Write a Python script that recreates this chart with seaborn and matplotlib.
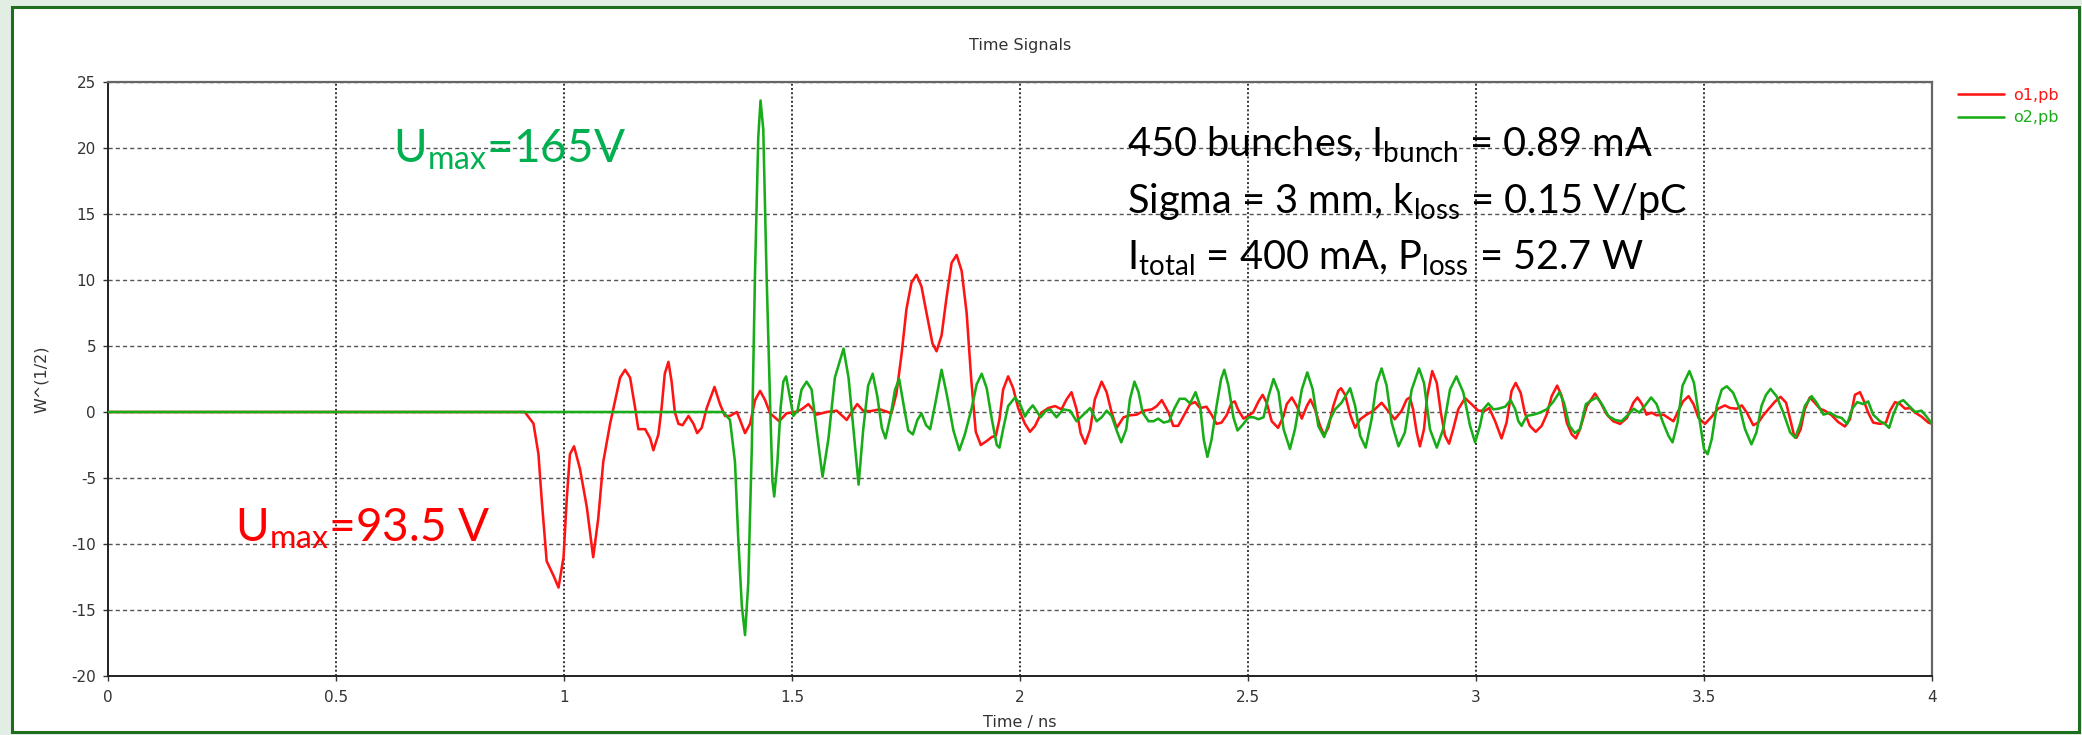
import numpy as np
import pandas as pd
import matplotlib
matplotlib.use("Agg")
import matplotlib.pyplot as plt
import seaborn as sns
from matplotlib.patches import Rectangle

# ---- probe signals (time in ns, amplitude in W^(1/2)) ----
t_o1 = [0.0, 0.914, 0.933, 0.944, 0.951, 0.962, 0.977, 0.988, 0.999, 1.006, 1.013,
        1.022, 1.035, 1.050, 1.064, 1.075, 1.086, 1.101, 1.112, 1.123, 1.134, 1.145,
        1.156, 1.163, 1.178, 1.189, 1.196, 1.207, 1.214, 1.221, 1.229, 1.236, 1.243,
        1.251, 1.260, 1.273, 1.284, 1.292, 1.302, 1.313, 1.330, 1.342, 1.353, 1.364,
        1.379, 1.386, 1.397, 1.408, 1.419, 1.430, 1.441, 1.452, 1.472, 1.488, 1.507,
        1.521, 1.536, 1.554, 1.576, 1.598, 1.620, 1.631, 1.643, 1.656, 1.671, 1.693,
        1.718, 1.729, 1.740, 1.751, 1.762, 1.773, 1.784, 1.795, 1.808, 1.817, 1.828,
        1.839, 1.850, 1.861, 1.872, 1.883, 1.893, 1.903, 1.914, 1.927, 1.938, 1.947,
        1.955, 1.963, 1.974, 1.985, 1.996, 2.011, 2.022, 2.033, 2.047, 2.062, 2.077,
        2.091, 2.102, 2.113, 2.124, 2.133, 2.143, 2.154, 2.164, 2.179, 2.190, 2.201,
        2.212, 2.227, 2.241, 2.256, 2.271, 2.289, 2.300, 2.311, 2.326, 2.336, 2.347,
        2.358, 2.373, 2.384, 2.395, 2.409, 2.420, 2.431, 2.442, 2.453, 2.464, 2.471,
        2.478, 2.490, 2.500, 2.511, 2.523, 2.532, 2.541, 2.552, 2.566, 2.578, 2.585,
        2.596, 2.607, 2.618, 2.629, 2.637, 2.647, 2.658, 2.667, 2.676, 2.687, 2.698,
        2.704, 2.713, 2.724, 2.735, 2.746, 2.760, 2.775, 2.793, 2.807, 2.822, 2.837,
        2.848, 2.855, 2.862, 2.870, 2.877, 2.886, 2.893, 2.904, 2.914, 2.923, 2.932,
        2.941, 2.950, 2.961, 2.976, 2.990, 3.005, 3.020, 3.029, 3.042, 3.056, 3.067,
        3.078, 3.087, 3.098, 3.107, 3.118, 3.131, 3.144, 3.155, 3.166, 3.178, 3.188,
        3.199, 3.210, 3.219, 3.228, 3.243, 3.261, 3.272, 3.287, 3.301, 3.316, 3.331,
        3.345, 3.354, 3.364, 3.374, 3.385, 3.396, 3.411, 3.422, 3.433, 3.444, 3.454,
        3.466, 3.477, 3.488, 3.502, 3.517, 3.531, 3.546, 3.557, 3.572, 3.583, 3.594,
        3.608, 3.619, 3.630, 3.641, 3.656, 3.668, 3.680, 3.689, 3.697, 3.703, 3.712,
        3.721, 3.732, 3.743, 3.754, 3.765, 3.780, 3.794, 3.809, 3.820, 3.831, 3.842,
        3.851, 3.860, 3.871, 3.886, 3.899, 3.908, 3.919, 3.930, 3.941, 3.952, 3.963,
        3.977, 3.992, 4.0]
v_o1 = [0.0, 0.0, -0.87, -3.2, -6.6, -11.3, -12.4, -13.3, -11.0, -6.6, -3.2,
        -2.6, -4.3, -7.2, -11.0, -8.1, -3.8, -0.9, 0.87, 2.6, 3.2, 2.6,
        0.3, -1.3, -1.3, -2.0, -2.9, -1.7, 0.3, 2.9, 3.8, 2.3, 0.0,
        -0.9, -1.0, -0.3, -0.9, -1.6, -1.2, 0.3, 1.9, 0.6, -0.3, -0.3,
        0.0, -0.6, -1.6, -0.9, 0.9, 1.6, 0.9, -0.1, -0.7, -0.1, 0.0,
        0.2, 0.6, -0.2, 0.0, 0.1, -0.6, 0.0, 0.6, 0.1, 0.06, 0.2,
        -0.1, 1.4, 4.3, 7.8, 9.8, 10.4, 9.5, 7.5, 5.2, 4.6, 5.8,
        8.7, 11.3, 11.9, 10.7, 7.5, 2.5, -1.5, -2.5, -2.2, -1.9, -1.8,
        -0.55, 1.7, 2.7, 1.8, 0.3, -0.9, -1.5, -1.05, -0.05, 0.3, 0.45,
        0.2, 0.95, 1.5, 0.2, -1.6, -2.4, -1.3, 0.95, 2.3, 1.5, -0.05,
        -1.2, -0.4, -0.25, -0.2, 0.1, 0.2, 0.45, 0.9, -0.05, -1.05, -1.05,
        -0.35, 0.6, 0.75, 0.3, 0.4, -0.2, -0.9, -0.8, -0.25, 0.7, 0.8,
        0.2, -0.5, -0.3, -0.05, 0.8, 1.3, 0.7, -0.7, -1.2, -0.3, 0.6,
        1.1, 0.45, -0.5, 0.45, 0.95, 0.2, -1.05, -1.75, -1.2, 0.45, 1.6,
        1.8, 1.3, -0.2, -1.2, -0.55, -0.2, 0.1, 0.7, 0.1, -0.55, 0.1,
        0.95, 1.1, 0.2, -1.55, -2.6, -1.3, 1.2, 3.1, 2.2, -0.05, -1.8,
        -2.4, -1.3, 0.2, 1.05, 0.6, 0.1, 0.1, 0.3, -0.7, -2.0, -0.8,
        1.6, 2.2, 1.45, -0.05, -1.05, -1.5, -1.05, -0.2, 1.2, 2.0, 1.2,
        -0.8, -1.7, -2.0, -1.3, 0.45, 1.4, 0.8, -0.2, -0.7, -0.9, -0.45,
        0.7, 1.1, 0.6, -0.2, -0.05, -0.25, -0.2, -0.45, -0.7, 0.1, 0.8,
        1.2, 0.6, -0.45, -0.9, -0.35, 0.25, 0.5, 0.3, 0.25, 0.5, -0.05,
        -1.0, -0.8, -0.25, 0.2, 0.8, 1.15, 0.7, -0.55, -1.7, -1.95, -1.3,
        0.2, 1.1, 0.7, 0.25, 0.1, -0.25, -0.75, -1.1, -0.55, 1.3, 1.5,
        0.8, -0.05, -0.8, -0.9, -0.8, 0.1, 0.75, 0.6, 0.25, 0.3, -0.05,
        -0.35, -0.8, -0.9]

t_o2 = [0.0, 1.349, 1.364, 1.375, 1.382, 1.390, 1.397, 1.404, 1.412, 1.419, 1.426,
        1.431, 1.437, 1.444, 1.452, 1.457, 1.461, 1.468, 1.475, 1.481, 1.487, 1.494,
        1.503, 1.512, 1.521, 1.532, 1.543, 1.554, 1.567, 1.580, 1.594, 1.613, 1.624,
        1.635, 1.646, 1.656, 1.667, 1.677, 1.687, 1.697, 1.705, 1.716, 1.726, 1.735,
        1.746, 1.755, 1.765, 1.775, 1.784, 1.794, 1.803, 1.814, 1.828, 1.839, 1.854,
        1.867, 1.879, 1.894, 1.905, 1.916, 1.927, 1.938, 1.949, 1.955, 1.963, 1.974,
        1.989, 2.000, 2.011, 2.018, 2.028, 2.036, 2.045, 2.057, 2.066, 2.080, 2.095,
        2.110, 2.124, 2.139, 2.154, 2.168, 2.179, 2.190, 2.201, 2.212, 2.222, 2.233,
        2.241, 2.251, 2.260, 2.269, 2.282, 2.293, 2.303, 2.315, 2.327, 2.339, 2.350,
        2.362, 2.373, 2.385, 2.395, 2.403, 2.411, 2.420, 2.431, 2.441, 2.448, 2.457,
        2.468, 2.477, 2.490, 2.501, 2.512, 2.523, 2.534, 2.545, 2.556, 2.567, 2.578,
        2.592, 2.603, 2.618, 2.630, 2.642, 2.654, 2.667, 2.680, 2.691, 2.705, 2.724,
        2.735, 2.746, 2.758, 2.771, 2.782, 2.793, 2.804, 2.815, 2.830, 2.844, 2.859,
        2.875, 2.886, 2.899, 2.914, 2.928, 2.943, 2.957, 2.972, 2.987, 2.998, 3.009,
        3.016, 3.027, 3.038, 3.049, 3.064, 3.076, 3.086, 3.093, 3.100, 3.111, 3.126,
        3.140, 3.155, 3.170, 3.183, 3.193, 3.205, 3.217, 3.228, 3.241, 3.254, 3.265,
        3.276, 3.290, 3.305, 3.319, 3.334, 3.346, 3.358, 3.370, 3.384, 3.396, 3.409,
        3.422, 3.431, 3.442, 3.453, 3.468, 3.478, 3.490, 3.500, 3.508, 3.517, 3.528,
        3.539, 3.550, 3.564, 3.579, 3.590, 3.604, 3.615, 3.626, 3.636, 3.646, 3.659,
        3.674, 3.689, 3.700, 3.711, 3.721, 3.736, 3.747, 3.762, 3.776, 3.791, 3.802,
        3.814, 3.826, 3.836, 3.849, 3.860, 3.871, 3.886, 3.897, 3.906, 3.915, 3.926,
        3.937, 3.950, 3.963, 3.977, 3.988, 4.0]
v_o2 = [0.0, 0.0, -0.6, -3.8, -9.5, -14.7, -16.9, -13.0, -2.5, 10.7, 20.8,
        23.6, 21.4, 10.7, 0.6, -5.2, -6.4, -3.8, 0.3, 2.3, 2.7, 1.4,
        -0.3, 0.1, 1.7, 2.3, 1.7, -1.4, -4.9, -2.0, 2.6, 4.8, 2.6,
        -1.4, -5.5, -1.4, 2.0, 2.9, 1.2, -1.2, -2.0, -0.3, 1.7, 2.5,
        0.3, -1.4, -1.7, -0.6, -0.1, -1.0, -1.3, 0.6, 3.2, 1.4, -1.4,
        -2.9, -1.7, 0.3, 2.1, 2.9, 1.8, -0.5, -2.5, -2.7, -1.3, 0.45,
        1.1, 0.6, -0.35, 0.1, 0.5, 0.1, -0.4, 0.1, 0.2, -0.4, 0.2,
        0.1, -0.7, -0.2, 0.3, -0.7, -0.4, 0.1, -0.3, -1.4, -2.3, -1.3,
        0.95, 2.3, 1.5, -0.05, -0.7, -0.7, -0.5, -0.8, -0.7, 0.3, 1.0,
        1.0, 0.65, 1.5, 0.45, -2.1, -3.4, -2.1, 0.45, 2.5, 3.2, 2.0,
        -0.4, -1.4, -0.9, -0.4, -0.4, -0.55, -0.4, 1.2, 2.5, 1.5, -1.3,
        -2.8, -1.3, 1.7, 3.0, 1.7, -1.05, -1.9, -0.55, 0.2, 0.7, 1.8,
        0.45, -1.8, -2.7, -0.55, 2.2, 3.3, 2.0, -0.8, -2.6, -1.55, 1.7,
        3.3, 2.2, -1.3, -2.7, -1.3, 1.7, 2.7, 1.5, -1.05, -2.3, -1.0,
        0.2, 0.65, 0.2, 0.25, 0.4, 0.9, 0.2, -0.7, -1.05, -0.3, -0.2,
        -0.05, 0.2, 0.8, 1.5, 0.7, -1.05, -1.6, -1.3, 0.6, 0.9, 1.1,
        0.6, -0.3, -0.6, -0.7, -0.2, 0.25, -0.05, 0.45, 1.1, 0.6, -0.7,
        -1.8, -2.3, -0.8, 2.0, 3.1, 2.2, -0.55, -2.8, -3.2, -2.05, 0.45,
        1.7, 1.95, 1.45, 0.2, -1.3, -2.45, -1.55, 0.45, 1.3, 1.75, 1.2,
        -0.05, -1.55, -1.95, -0.9, 0.45, 1.2, 0.7, -0.2, -0.05, -0.35, -0.45,
        -0.9, 0.3, 0.75, 0.6, 0.8, -0.2, -0.7, -0.9, -1.2, -0.2, 0.7,
        0.9, 0.45, 0.0, 0.1, -0.35, -0.9]

x_ticks = [0, 0.5, 1, 1.5, 2, 2.5, 3, 3.5, 4]
y_ticks = [-20, -15, -10, -5, 0, 5, 10, 15, 20, 25]
signal_names = ["o1,pb", "o2,pb"]
signal_colors = {"o1,pb": "#ff1414", "o2,pb": "#18ad18"}

info_lines = [
    r"450 bunches, I$_{\mathrm{bunch}}$ = 0.89 mA",
    r"Sigma = 3 mm, k$_{\mathrm{loss}}$ = 0.15 V/pC",
    r"I$_{\mathrm{total}}$ = 400 mA, P$_{\mathrm{loss}}$ = 52.7 W",
]
label_o2 = r"U$_{\mathrm{max}}$=165V"
label_o1 = r"U$_{\mathrm{max}}$=93.5 V"

# ---- styling ----
sns.set_theme(style="white")
plt.rcParams["font.family"] = ["DejaVu Sans"]
plt.rcParams["mathtext.fontset"] = "custom"
plt.rcParams["mathtext.rm"] = "Lato"
plt.rcParams["mathtext.it"] = "Lato:italic"
plt.rcParams["mathtext.bf"] = "Lato:bold"

W, H = 2082, 735


def fx(px):
    return px / W


def fy(py):
    return 1 - py / H


fig = plt.figure(figsize=(W / 100, H / 100), dpi=100, facecolor="#e2ede4")
# white panel with a dark green frame, behind everything else
fig.patches.append(Rectangle((fx(12), fy(732)), fx(2079 - 12), (732 - 7) / H,
                             transform=fig.transFigure, facecolor="white",
                             edgecolor="#1d6e1d", linewidth=2.2, zorder=-5))

ax = fig.add_axes([fx(108), fy(676), fx(1932 - 108), (676 - 82) / H])
ax.set_facecolor("white")

df = pd.concat([
    pd.DataFrame({"t": t_o1, "v": v_o1, "signal": signal_names[0]}),
    pd.DataFrame({"t": t_o2, "v": v_o2, "signal": signal_names[1]}),
], ignore_index=True)

sns.lineplot(data=df, x="t", y="v", hue="signal", hue_order=signal_names,
             palette=signal_colors, sort=False, estimator=None,
             linewidth=1.85, ax=ax, zorder=3)
for ln in ax.get_lines():
    ln.set_solid_joinstyle("round")

ax.set_xlim(0, 4)
ax.set_ylim(-20, 25)
ax.set_xticks(x_ticks)
ax.set_xticklabels([f"{v:g}" for v in x_ticks])
ax.set_yticks(y_ticks)
ax.set_yticklabels([f"{v:g}" for v in y_ticks])
ax.set_xlabel("")
ax.set_ylabel("")

ax.set_axisbelow(True)
ax.grid(axis="x", linestyle=(0, (1, 1.2)), color="#333333", linewidth=1.4)
ax.grid(axis="y", linestyle=(0, (3.0, 2.2)), color="#555555", linewidth=1.0)

for side in ["left", "bottom"]:
    ax.spines[side].set_color("#222222")
    ax.spines[side].set_linewidth(1.4)
for side in ["top", "right"]:
    ax.spines[side].set_color("#666666")
    ax.spines[side].set_linewidth(1.6)

ax.tick_params(axis="both", which="major", direction="out", bottom=True,
               left=True, length=3.6, width=1.0, color="#333333",
               labelsize=11, labelcolor="#333333")
ax.tick_params(axis="y", pad=5)
ax.tick_params(axis="x", pad=6.5)

handles, labels = ax.get_legend_handles_labels()
leg = ax.legend(handles, labels, loc="upper left",
                bbox_to_anchor=(fx(1958), fy(88)), bbox_transform=fig.transFigure,
                frameon=False, labelcolor="linecolor", fontsize=11.5,
                handlelength=2.9, handletextpad=0.55, labelspacing=0.45,
                borderpad=0, borderaxespad=0)

fig.text(fx(1020), fy(50), "Time Signals", ha="center", va="baseline",
         fontsize=11.5, color="#333333")
fig.text(fx(1020), fy(727), "Time / ns", ha="center", va="baseline",
         fontsize=11.5, color="#333333")
fig.text(fx(41), fy(379), "W^(1/2)", ha="center", va="center",
         rotation=90, fontsize=11.5, color="#333333")

fig.text(fx(393), fy(163), label_o2, ha="left", va="baseline",
         fontsize=33, color="#00b050", family="Lato")
fig.text(fx(235), fy(542), label_o1, ha="left", va="baseline",
         fontsize=33, color="#ff0000", family="Lato")

for line, base in zip(info_lines, [157, 213, 270]):
    fig.text(fx(1127), fy(base), line, ha="left", va="baseline",
             fontsize=28.6, color="black", family="Lato")

fig.savefig("out.png", dpi=100, facecolor=fig.get_facecolor())
